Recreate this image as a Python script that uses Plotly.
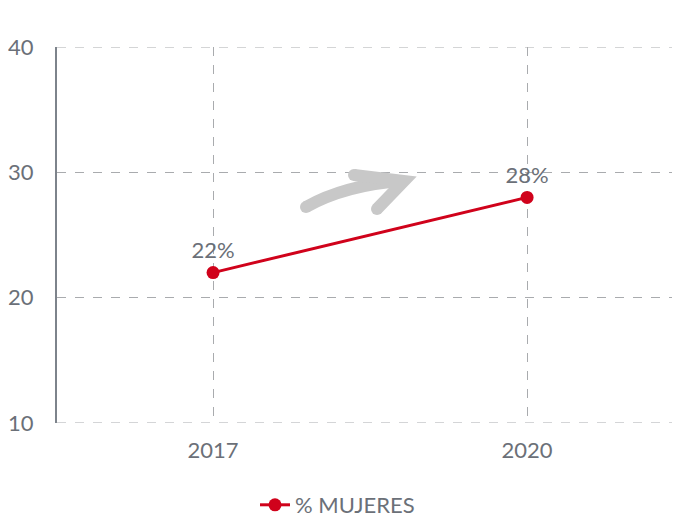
import plotly.graph_objects as go

years = ["2017", "2020"]
pct_mujeres = [22, 28]
labels = ["22%", "28%"]
y_ticks = [10, 20, 30, 40]

RED = "#d0021b"
GRAY_TXT = "#6b7078"
GRID = "#a9abae"
FS = 22

fig = go.Figure()
fig.add_trace(go.Scatter(
    x=years, y=pct_mujeres, mode="lines+markers+text",
    name="% MUJERES",
    line=dict(color=RED, width=3),
    marker=dict(color=RED, size=13),
    text=labels, textposition="top center",
    textfont=dict(family="Lato", size=FS, color=GRAY_TXT),
    cliponaxis=False,
))

# page body adds an 8px offset; geometry below is in absolute page pixels
OFF = 8
FIG_W, FIG_H = 680 - OFF, 517 - OFF
L, T, W, H = 57, 47, 623, 376

def fx(x):
    return (x - L) / W

def fy(y):
    return (T + H - y) / H

def px(x, y):
    return f"{fx(x):.4f},{fy(y):.4f}"

# horizontal grid lines at the range ends (plotly hides them at the edges)
for v in (y_ticks[0], y_ticks[-1]):
    fig.add_shape(type="line", xref="paper", yref="y", x0=0, x1=1, y0=v, y1=v,
                  line=dict(color=GRID, width=1, dash="dash"), layer="below")

arrow_color = "#c8c8c8"
fig.add_shape(type="path", xref="paper", yref="paper",
              path=f"M {px(306, 207)} Q {px(345, 185)} {px(402, 181)}",
              line=dict(color=arrow_color, width=12))
fig.add_shape(type="path", xref="paper", yref="paper",
              path=f"M {px(354, 175)} L {px(404, 181)} L {px(377, 209)}",
              line=dict(color=arrow_color, width=12))
for cx, cy in [(306, 207), (354, 175), (377, 209)]:
    fig.add_shape(type="circle", xref="paper", yref="paper",
                  x0=fx(cx - 6), x1=fx(cx + 6), y0=fy(cy + 6), y1=fy(cy - 6),
                  fillcolor=arrow_color, line=dict(width=0))

fig.update_layout(
    width=FIG_W, height=FIG_H,
    margin=dict(l=L - OFF, r=0, t=T - OFF, b=517 - T - H, autoexpand=False),
    paper_bgcolor="white", plot_bgcolor="white",
    font=dict(family="Lato", size=FS, color=GRAY_TXT),
    showlegend=True,
    legend=dict(orientation="h",
                xref="container", x=(255 - OFF) / FIG_W, xanchor="left",
                yref="container", y=(517 - 505) / FIG_H, yanchor="middle",
                font=dict(family="Lato", size=FS, color=GRAY_TXT)),
    xaxis=dict(type="category", range=[-0.497, 1.487], automargin=False,
               showgrid=True, gridcolor=GRID, griddash="dash", gridwidth=1,
               showline=False, zeroline=False, ticks="",
               ticklabelstandoff=12,
               tickfont=dict(family="Lato", size=FS, color=GRAY_TXT)),
    yaxis=dict(range=[10, 40], tickvals=y_ticks, automargin=False,
               showgrid=True, gridcolor=GRID, griddash="dash", gridwidth=1,
               showline=True, linecolor="#7d838b", linewidth=2,
               zeroline=False, ticks="", ticklabelstandoff=17,
               tickfont=dict(family="Lato", size=FS, color=GRAY_TXT)),
)

fig.write_html("out.html")
